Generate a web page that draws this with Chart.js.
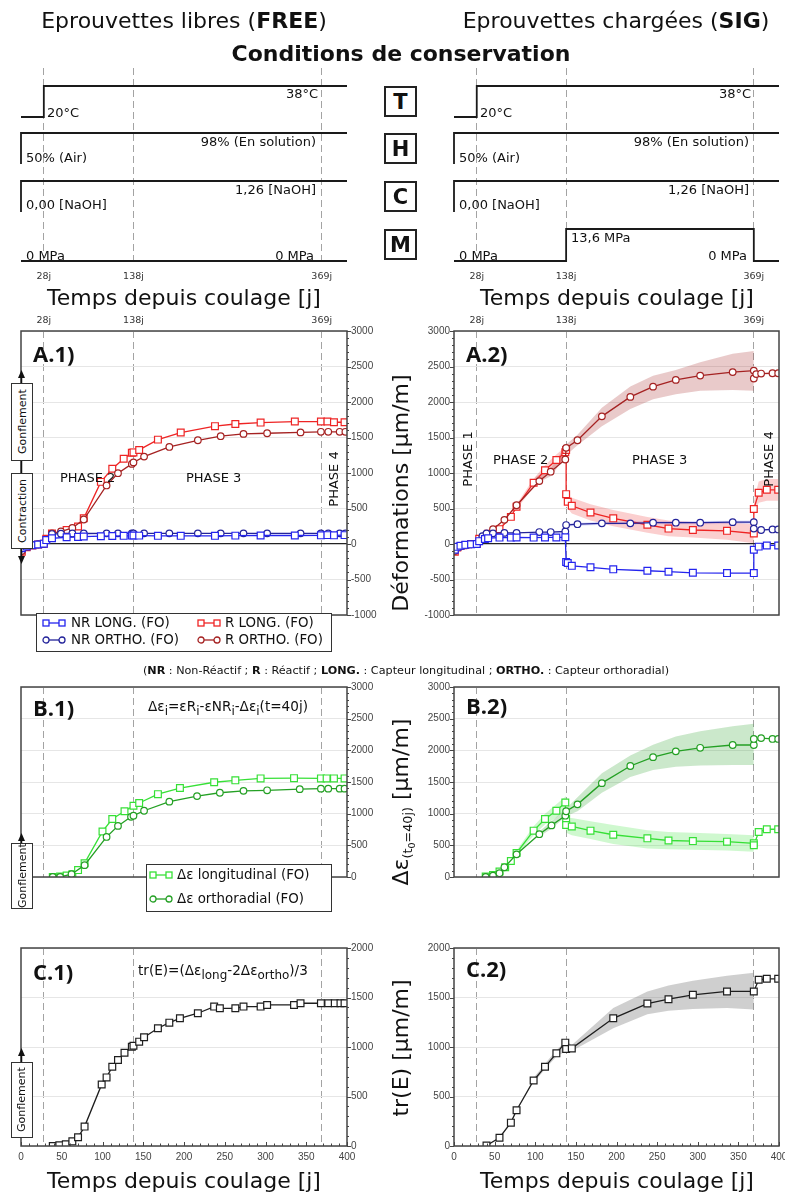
<!DOCTYPE html>
<html><head><meta charset="utf-8">
<script src="https://cdn.jsdelivr.net/npm/chart.js@4.4.0/dist/chart.umd.min.js"></script>
<style>
html,body{margin:0;padding:0;background:#fff;}
body{width:785px;height:1195px;position:relative;overflow:hidden;font-family:"DejaVu Sans",sans-serif;color:#111;}
canvas{position:absolute;z-index:1;}
.t{position:absolute;white-space:nowrap;z-index:3;line-height:1;}
.c{transform:translate(-50%,-50%);}
.l{transform:translate(0,-50%);}
.r{transform:translate(-100%,-50%);}
.rot{transform:translate(-50%,-50%) rotate(-90deg);}
.letter{position:absolute;z-index:3;border:2px solid #222;background:#fff;box-sizing:border-box;display:flex;align-items:center;justify-content:center;font-weight:bold;font-size:21px;width:33px;height:31px;left:384px;}
.vbox{position:absolute;z-index:3;box-sizing:border-box;border:1.5px solid #333;background:#fff;writing-mode:vertical-rl;transform:rotate(180deg);display:flex;align-items:center;justify-content:center;font-size:11px;width:22px;left:10.5px;}
.pl{font-family:"Open Sans",sans-serif;font-weight:700;font-size:22px;}
.leg{position:absolute;z-index:3;box-sizing:border-box;border:1.5px solid #333;background:#fff;}
.leg .it{position:absolute;white-space:nowrap;font-size:13.4px;line-height:1;transform:translate(0,-50%);}
.leg svg{position:absolute;transform:translate(0,-50%);}
sub{font-size:72%;vertical-align:-0.3em;line-height:0;}
.fm sub{font-size:88%;vertical-align:-0.35em;}
svg.ov{position:absolute;left:0;top:0;z-index:2;}
</style>
</head><body>
<script>
// ================= DATA =================
const vLineDays = [28, 138, 369];

// Conservation conditions (schematic levels: 0 = low, 1 = high)
const tDays = [0, 28, 28, 400], tLevel = [0, 0, 1, 1];
const hDays = [0, 0, 400], hLevel = [0, 1, 1];
const cDays = [0, 0, 400], cLevel = [0, 1, 1];
const mDaysFree = [0, 400], mLevelFree = [0, 0];
const mDaysSig = [0, 138, 138, 369, 369, 400], mLevelSig = [0, 0, 1, 1, 0, 0];

// A.1 (FREE) deformations [µm/m]
const a1LongDays = [1, 7, 14, 21, 28, 31, 38, 56, 70, 77, 98, 112, 126, 136, 138, 145, 168, 196, 238, 263, 294, 336, 368, 376, 384, 397];
const a1NrLong = [-60, -35, -18, -8, 5, 55, 80, 95, 100, 105, 110, 112, 115, 118, 120, 118, 115, 115, 115, 118, 120, 120, 122, 125, 122, 125];
const a1RLong = [-110, -45, -20, -8, 5, 75, 148, 197, 246, 361, 875, 1060, 1200, 1285, 1290, 1325, 1470, 1570, 1660, 1690, 1710, 1725, 1725, 1725, 1715, 1715];
const a1OrthoDays = [1, 7, 14, 21, 28, 38, 49, 63, 77, 105, 119, 136, 138, 151, 182, 217, 245, 273, 302, 343, 368, 377, 391, 398];
const a1NrOrtho = [-60, -30, -15, -5, 5, 140, 145, 148, 148, 150, 150, 150, 150, 150, 150, 150, 150, 150, 150, 150, 150, 150, 150, 150];
const a1ROrtho = [-100, -40, -15, -5, 5, 148, 176, 226, 345, 825, 997, 1128, 1149, 1231, 1367, 1461, 1518, 1551, 1560, 1572, 1580, 1580, 1580, 1580];

// A.2 (SIG) deformations [µm/m]
const a2RLongDays = [1, 4, 8, 14, 21, 28, 31, 38, 42, 56, 70, 77, 98, 112, 126, 137, 138, 138, 140, 145, 168, 196, 238, 264, 294, 336, 369, 369, 375, 385, 399];
const a2RLong = [-110, -50, -30, -15, 0, 0, 74, 80, 144, 209, 382, 525, 862, 1038, 1182, 1293, 1325, 702, 595, 538, 443, 361, 271, 217, 197, 185, 148, 492, 722, 763, 763];
const a2NrLongDays = [1, 4, 8, 14, 21, 28, 31, 38, 42, 56, 70, 77, 98, 112, 126, 137, 138, 140, 145, 168, 196, 238, 264, 294, 336, 369, 369, 375, 385, 399];
const a2NrLong = [-80, -40, -25, -12, -5, 0, 40, 70, 82, 90, 90, 92, 90, 92, 92, 94, -254, -267, -308, -328, -357, -377, -390, -406, -410, -410, -82, -37, -20, -20];
const a2ROrthoDays = [1, 7, 14, 21, 28, 35, 40, 48, 62, 77, 105, 119, 137, 138, 152, 182, 217, 245, 273, 303, 343, 369, 369, 372, 378, 392, 399];
const a2ROrtho = [-100, -40, -20, -5, 0, 100, 140, 209, 340, 546, 886, 1018, 1190, 1354, 1461, 1798, 2072, 2216, 2311, 2372, 2421, 2442, 2331, 2393, 2401, 2405, 2405];
const a2NrOrthoDays = [1, 7, 14, 21, 28, 35, 40, 48, 62, 77, 105, 119, 137, 138, 152, 182, 217, 245, 273, 303, 343, 369, 369, 378, 392, 399];
const a2NrOrtho = [-70, -30, -15, -5, 0, 110, 148, 150, 156, 156, 168, 168, 176, 267, 279, 291, 291, 300, 300, 300, 308, 308, 217, 197, 205, 205];
// A.2 scatter bands
const a2ROrthoBandDays = [100, 120, 138, 152, 182, 217, 245, 273, 303, 343, 369];
const a2ROrthoBandLo = [840, 960, 1250, 1390, 1660, 1900, 2040, 2110, 2160, 2170, 2160];
const a2ROrthoBandHi = [940, 1080, 1400, 1540, 1920, 2220, 2370, 2450, 2560, 2680, 2720];
const a2RLongBand1Days = [56, 77, 98, 112, 126, 138];
const a2RLongBand1Lo = [190, 490, 800, 960, 1100, 1200];
const a2RLongBand1Hi = [230, 560, 920, 1110, 1260, 1380];
const a2RLongBand2Days = [140, 145, 168, 196, 238, 264, 294, 336, 369];
const a2RLongBand2Lo = [500, 430, 330, 250, 160, 110, 90, 60, 10];
const a2RLongBand2Hi = [680, 650, 560, 480, 380, 330, 310, 300, 280];
const a2RLongBand3Days = [369, 375, 385, 399];
const a2RLongBand3Lo = [400, 580, 610, 610];
const a2RLongBand3Hi = [600, 880, 915, 915];
const a2NrOrthoBandDays = [138, 182, 245, 303, 369];
const a2NrOrthoBandLo = [245, 270, 278, 278, 285];
const a2NrOrthoBandHi = [290, 315, 325, 325, 330];

// B.1 (FREE) Δε [µm/m]
const b1LongDays = [39, 48, 56, 63, 70, 78, 100, 112, 127, 138, 145, 168, 195, 237, 263, 294, 335, 368, 375, 384, 397];
const b1Long = [0, 9, 22, 44, 109, 218, 719, 916, 1038, 1125, 1168, 1308, 1404, 1496, 1526, 1557, 1561, 1557, 1557, 1557, 1557];
const b1OrthoDays = [39, 48, 62, 78, 105, 119, 135, 138, 151, 182, 216, 244, 273, 302, 342, 368, 377, 391, 397];
const b1Ortho = [0, 0, 44, 187, 632, 807, 950, 968, 1046, 1190, 1277, 1330, 1360, 1369, 1387, 1395, 1395, 1395, 1395];

// B.2 (SIG) Δε [µm/m]
const b2LongDays = [39, 48, 56, 63, 70, 77, 98, 112, 126, 137, 138, 138, 145, 168, 196, 238, 264, 294, 336, 369, 369, 375, 385, 399];
const b2Long = [9, 30, 87, 153, 253, 379, 732, 916, 1046, 1177, 916, 820, 798, 732, 667, 610, 576, 567, 558, 532, 501, 711, 754, 754];
const b2OrthoDays = [39, 48, 56, 62, 77, 105, 120, 137, 138, 152, 182, 217, 245, 273, 303, 343, 369, 369, 378, 392, 399];
const b2Ortho = [0, 20, 60, 153, 358, 676, 815, 968, 1038, 1147, 1482, 1753, 1892, 1984, 2040, 2084, 2084, 2180, 2193, 2180, 2180];
const b2OrthoBandDays = [105, 120, 138, 152, 182, 217, 245, 273, 303, 343, 369];
const b2OrthoBandLo = [640, 760, 960, 1040, 1330, 1580, 1690, 1740, 1760, 1770, 1770];
const b2OrthoBandHi = [720, 880, 1080, 1260, 1640, 1920, 2090, 2220, 2300, 2380, 2420];
const b2LongBand1Days = [70, 77, 98, 112, 126, 138];
const b2LongBand1Lo = [240, 340, 660, 830, 940, 1070];
const b2LongBand1Hi = [270, 420, 800, 1000, 1150, 1280];
const b2LongBand2Days = [138, 145, 168, 196, 238, 264, 294, 336, 369];
const b2LongBand2Lo = [700, 660, 600, 520, 450, 440, 430, 420, 400];
const b2LongBand2Hi = [930, 930, 880, 820, 740, 710, 700, 680, 660];

// C.1 (FREE) tr(E) [µm/m]
const c1Days = [39, 47, 55, 63, 70, 78, 99, 105, 112, 119, 127, 136, 138, 145, 151, 168, 182, 195, 217, 237, 244, 263, 273, 294, 302, 335, 343, 368, 377, 385, 392, 397];
const c1Tr = [0, 7, 17, 47, 88, 196, 622, 693, 801, 868, 942, 1003, 1013, 1054, 1098, 1189, 1246, 1290, 1341, 1408, 1391, 1391, 1408, 1408, 1425, 1425, 1442, 1442, 1442, 1442, 1442, 1442];

// C.2 (SIG) tr(E) [µm/m]
const c2Days = [40, 56, 70, 77, 98, 112, 126, 137, 138, 145, 196, 238, 264, 294, 336, 369, 375, 385, 399];
const c2Tr = [5, 84, 236, 361, 662, 800, 936, 1044, 980, 986, 1290, 1439, 1483, 1527, 1561, 1561, 1679, 1689, 1689];
const c2BandDays = [98, 112, 126, 138, 145, 196, 238, 264, 294, 336, 369];
const c2BandLo = [640, 775, 905, 960, 960, 1190, 1330, 1365, 1385, 1395, 1380];
const c2BandHi = [690, 830, 970, 1060, 1020, 1395, 1560, 1620, 1670, 1720, 1750];

// ================= HELPERS =================
const M = 40;
const fit = s => { if (s.isHorizontal()) s.height = M; else s.width = M; };
const tickFont = {family: 'Liberation Sans', size: 10};

const framePlugin = {
  id: 'frame',
  afterDraw(chart, args, o) {
    if (!o || !o.show) return;
    const {ctx, chartArea: a, scales} = chart;
    ctx.save();
    ctx.strokeStyle = '#444'; ctx.lineWidth = 1.5;
    ctx.strokeRect(a.left, a.top, a.right - a.left, a.bottom - a.top);
    ctx.lineWidth = 1;
    const y = scales.y;
    if (o.yMinor) {
      for (let v = y.min; v <= y.max; v += o.yMinor) {
        const p = Math.round(y.getPixelForValue(v)) + 0.5;
        const len = (v % 500 === 0) ? 4 : 2;
        ctx.beginPath();
        if (o.side === 'right') { ctx.moveTo(a.right, p); ctx.lineTo(a.right + len, p); }
        else { ctx.moveTo(a.left, p); ctx.lineTo(a.left - len, p); }
        ctx.stroke();
      }
    }
    if (o.xMinor) {
      const x = scales.x;
      for (let v = x.min; v <= x.max; v += o.xMinor) {
        const p = Math.round(x.getPixelForValue(v)) + 0.5;
        const len = (v % 50 === 0) ? 4 : 2.5;
        ctx.beginPath(); ctx.moveTo(p, a.bottom); ctx.lineTo(p, a.bottom - len); ctx.stroke();
      }
    }
    ctx.restore();
  }
};
Chart.register(framePlugin);

function mk(area, cfg) {
  const cv = document.createElement('canvas');
  const w = area.r - area.l + 2 * M, h = area.b - area.t + 2 * M;
  cv.width = w; cv.height = h;
  cv.style.width = w + 'px'; cv.style.height = h + 'px';
  cv.style.left = (area.l - M) + 'px'; cv.style.top = (area.t - M) + 'px';
  document.body.appendChild(cv);
  return new Chart(cv.getContext('2d'), cfg);
}
function xMain(show) {
  return {type: 'linear', min: 0, max: 400, position: 'bottom', display: show, afterFit: fit,
    grid: {display: false, drawTicks: false}, border: {display: false},
    ticks: {stepSize: 50, padding: 5, color: '#444', font: tickFont, maxRotation: 0, autoSkip: false, callback: v => String(v)}};
}
function xLines(pos, show, pad) {
  return {type: 'linear', min: 0, max: 400, position: pos, display: true, afterFit: fit,
    afterBuildTicks: s => { s.ticks = vLineDays.map(v => ({value: v})); },
    grid: {color: '#a3a3a3', lineWidth: 1, drawTicks: false},
    border: {display: false, dash: [7, 4]},
    ticks: {display: show, padding: pad, color: '#333', font: {family: 'DejaVu Sans', size: 9.5}, maxRotation: 0, autoSkip: false, callback: v => v + 'j'}};
}
function yAxis(pos, min, max, zero) {
  const isZero = c => zero && c.tick && c.tick.value === 0;
  return {type: 'linear', min, max, position: pos, afterFit: fit,
    ticks: {stepSize: 500, padding: 4, color: '#444', font: tickFont, callback: v => String(v)},
    grid: {drawTicks: false, color: c => isZero(c) ? '#222' : '#e6e6e6', lineWidth: c => isZero(c) ? 1.3 : 1},
    border: {display: false}};
}
function opts(scales, pad, frame) {
  return {responsive: false, animation: false, devicePixelRatio: 1, events: [],
    layout: {padding: pad}, scales,
    plugins: {legend: {display: false}, tooltip: {enabled: false}, frame}};
}
const pts = (xs, ys) => xs.map((x, i) => ({x, y: ys[i]}));
function series(xs, ys, color, style) {
  const sq = style === 'rect';
  return {data: pts(xs, ys), borderColor: color, backgroundColor: color, borderWidth: 1.3,
    pointStyle: style, pointRadius: sq ? 4.8 : 3.3, pointBorderWidth: 1.2,
    pointBackgroundColor: '#fff', pointBorderColor: color, fill: false, tension: 0, order: 1};
}
function band(xs, lo, hi, color) {
  return [
    {data: pts(xs, lo), borderWidth: 0, borderColor: 'rgba(0,0,0,0)', pointRadius: 0, fill: false, order: 5},
    {data: pts(xs, hi), borderWidth: 0, borderColor: 'rgba(0,0,0,0)', pointRadius: 0, fill: '-1', backgroundColor: color, order: 5}
  ];
}
function condSet(xs, lv, base, h) {
  return {data: xs.map((x, i) => ({x, y: base + h * lv[i]})), borderColor: '#1a1a1a', borderWidth: 1.8,
    pointRadius: 0, fill: false, tension: 0, clip: false};
}

const C_NRL = '#2424ee', C_NRO = '#23239a', C_RL = '#ee2424', C_RO = '#a52222';
const C_DL = '#36e036', C_DO = '#24a024';

// ================= CONDITIONS CHARTS =================
function condChart(area, mDays, mLevel) {
  mk(area, {type: 'line', data: {datasets: [
      condSet(tDays, tLevel, 145, 31),
      condSet(hDays, hLevel, 98, 31),
      condSet(cDays, cLevel, 50, 31),
      condSet(mDays, mLevel, 1, 32)
    ]},
    options: opts({x: {type: 'linear', min: 0, max: 400, display: false},
      x2: xLines('bottom', true, 9),
      y: {type: 'linear', min: 0, max: 194, display: false}},
      {left: M, right: M, top: M, bottom: 0}, {show: false})});
}
condChart({l: 21, t: 68, r: 347, b: 262}, mDaysFree, mLevelFree);
condChart({l: 454, t: 68, r: 779, b: 262}, mDaysSig, mLevelSig);

// ================= A =================
mk({l: 21, t: 331, r: 347, b: 655}, {type: 'line', data: {datasets: [
    series(a1LongDays, a1NrLong, C_NRL, 'rect'),
    series(a1OrthoDays, a1NrOrtho, C_NRO, 'circle'),
    series(a1OrthoDays, a1ROrtho, C_RO, 'circle'),
    series(a1LongDays, a1RLong, C_RL, 'rect')
  ]},
  options: opts({x: xMain(false), x2: xLines('top', true, 5), y: yAxis('right', -1000, 3000, true)},
    {left: M, bottom: M, top: 0, right: 0}, {show: true, yMinor: 100, side: 'right'})});

mk({l: 454, t: 331, r: 779, b: 655}, {type: 'line', data: {datasets: [
    series(a2NrLongDays, a2NrLong, C_NRL, 'rect'),
    series(a2NrOrthoDays, a2NrOrtho, C_NRO, 'circle'),
    series(a2ROrthoDays, a2ROrtho, C_RO, 'circle'),
    series(a2RLongDays, a2RLong, C_RL, 'rect'),
    ...band(a2ROrthoBandDays, a2ROrthoBandLo, a2ROrthoBandHi, 'rgba(165,34,34,0.24)'),
    ...band(a2RLongBand1Days, a2RLongBand1Lo, a2RLongBand1Hi, 'rgba(238,36,36,0.22)'),
    ...band(a2RLongBand2Days, a2RLongBand2Lo, a2RLongBand2Hi, 'rgba(238,36,36,0.22)'),
    ...band(a2RLongBand3Days, a2RLongBand3Lo, a2RLongBand3Hi, 'rgba(238,36,36,0.22)'),
    ...band(a2NrOrthoBandDays, a2NrOrthoBandLo, a2NrOrthoBandHi, 'rgba(36,36,238,0.15)')
  ]},
  options: opts({x: xMain(false), x2: xLines('top', true, 5), y: yAxis('left', -1000, 3000, true)},
    {left: 0, bottom: M, top: 0, right: M}, {show: true, yMinor: 100, side: 'left'})});

// ================= B =================
mk({l: 21, t: 687, r: 347, b: 917}, {type: 'line', data: {datasets: [
    series(b1OrthoDays, b1Ortho, C_DO, 'circle'),
    series(b1LongDays, b1Long, C_DL, 'rect')
  ]},
  options: opts({x: xMain(false), x2: xLines('top', false, 5), y: yAxis('right', 0, 3000, false)},
    {left: M, bottom: M, top: 0, right: 0}, {show: true, yMinor: 100, side: 'right'})});

mk({l: 454, t: 687, r: 779, b: 917}, {type: 'line', data: {datasets: [
    series(b2OrthoDays, b2Ortho, C_DO, 'circle'),
    series(b2LongDays, b2Long, C_DL, 'rect'),
    ...band(b2OrthoBandDays, b2OrthoBandLo, b2OrthoBandHi, 'rgba(36,160,36,0.24)'),
    ...band(b2LongBand1Days, b2LongBand1Lo, b2LongBand1Hi, 'rgba(54,224,54,0.24)'),
    ...band(b2LongBand2Days, b2LongBand2Lo, b2LongBand2Hi, 'rgba(54,224,54,0.24)')
  ]},
  options: opts({x: xMain(false), x2: xLines('top', false, 5), y: yAxis('left', 0, 3000, false)},
    {left: 0, bottom: M, top: 0, right: M}, {show: true, yMinor: 100, side: 'left'})});

// ================= C =================
mk({l: 21, t: 948, r: 347, b: 1146}, {type: 'line', data: {datasets: [
    series(c1Days, c1Tr, '#1e1e1e', 'rect')
  ]},
  options: opts({x: xMain(true), x2: xLines('top', false, 5), y: yAxis('right', 0, 2000, false)},
    {left: M, bottom: 0, top: 0, right: 0}, {show: true, yMinor: 100, xMinor: 10, side: 'right'})});

mk({l: 454, t: 948, r: 779, b: 1146}, {type: 'line', data: {datasets: [
    series(c2Days, c2Tr, '#1e1e1e', 'rect'),
    ...band(c2BandDays, c2BandLo, c2BandHi, 'rgba(130,130,130,0.38)')
  ]},
  options: opts({x: xMain(true), x2: xLines('top', false, 5), y: yAxis('left', 0, 2000, false)},
    {left: 0, bottom: 0, top: 0, right: M}, {show: true, yMinor: 100, xMinor: 10, side: 'left'})});

// ================= TEXT =================
function txt(html, x, y, cls, style) {
  const d = document.createElement('div');
  d.className = 't ' + cls; d.innerHTML = html;
  d.style.left = x + 'px'; d.style.top = y + 'px';
  if (style) d.style.cssText += style;
  document.body.appendChild(d);
  return d;
}
txt('Eprouvettes libres (<b>FREE</b>)', 184, 21, 'c', 'font-size:22px;');
txt('Eprouvettes chargées (<b>SIG</b>)', 616, 21, 'c', 'font-size:22px;');
txt('<b>Conditions de conservation</b>', 401, 54, 'c', 'font-size:22px;');
['T', 'H', 'C', 'M'].forEach((L, i) => {
  const d = document.createElement('div'); d.className = 'letter'; d.textContent = L;
  d.style.top = [86, 133, 181, 229][i] + 'px'; document.body.appendChild(d);
});
const cf = 'font-size:13px;';
[0, 433].forEach(dx => {
  txt('20°C', 47 + dx, 112, 'l', cf);
  txt('38°C', 318 + dx, 93, 'r', cf);
  txt('50% (Air)', 26 + dx, 157, 'l', cf);
  txt('98% (En solution)', 316 + dx, 141, 'r', cf);
  txt('0,00 [NaOH]', 26 + dx, 204, 'l', cf);
  txt('1,26 [NaOH]', 316 + dx, 189, 'r', cf);
  txt('0 MPa', 26 + dx, 255, 'l', cf);
  txt('0 MPa', 314 + dx, 255, 'r', cf);
  txt('Temps depuis coulage [j]', 184 + dx, 298, 'c', 'font-size:22px;');
  txt('Temps depuis coulage [j]', 184 + dx, 1181, 'c', 'font-size:22px;');
});
txt('13,6 MPa', 571, 237, 'l', cf);

txt('A.1)', 33, 353, 'l pl');
txt('A.2)', 466, 353, 'l pl');
txt('B.1)', 33, 707, 'l pl');
txt('B.2)', 466, 705, 'l pl');
txt('C.1)', 33, 971, 'l pl');
txt('C.2)', 466, 968, 'l pl');

const pf = 'font-size:13px;';
txt('PHASE 2', 60, 477, 'l', pf);
txt('PHASE 3', 186, 477, 'l', pf);
txt('PHASE 4', 333, 479, 'rot', pf);
txt('PHASE 1', 467, 459, 'rot', pf);
txt('PHASE 2', 493, 459, 'l', pf);
txt('PHASE 3', 632, 459, 'l', pf);
txt('PHASE 4', 768, 459, 'rot', pf);

txt('Déformations [µm/m]', 401, 493, 'rot', 'font-size:22px;');
txt('Δε<sub style="font-size:58%;vertical-align:-0.35em">(t<sub style="font-size:75%">0</sub>=40j)</sub> [µm/m]', 401, 802, 'rot', 'font-size:22px;');
txt('tr(E) [µm/m]', 401, 1048, 'rot', 'font-size:22px;');

txt('(<b>NR</b> : Non-Réactif ; <b>R</b> : Réactif ; <b>LONG.</b> : Capteur longitudinal ; <b>ORTHO.</b> : Capteur orthoradial)', 406, 671, 'c', 'font-size:11.2px;');
txt('Δε<sub>i</sub>=εR<sub>i</sub>-εNR<sub>i</sub>-Δε<sub>i</sub>(t=40j)', 148, 707, 'l fm', 'font-size:13.6px;');
txt('tr(E)=(Δε<sub>long</sub>-2Δε<sub>ortho</sub>)/3', 138, 971, 'l fm', 'font-size:13.6px;');

// Gonflement / Contraction boxes
function vbox(label, top, bottom) {
  const d = document.createElement('div'); d.className = 'vbox'; d.textContent = label;
  d.style.top = top + 'px'; d.style.height = (bottom - top) + 'px'; document.body.appendChild(d);
}
vbox('Gonflement', 383, 461);
vbox('Contraction', 473, 549);
vbox('Gonflement', 843, 909);
vbox('Gonflement', 1062, 1138);

// arrows
const ns = 'http://www.w3.org/2000/svg';
const ov = document.createElementNS(ns, 'svg');
ov.setAttribute('class', 'ov'); ov.setAttribute('width', 785); ov.setAttribute('height', 1195);
ov.innerHTML =
  '<line x1="21.5" y1="376" x2="21.5" y2="558" stroke="#111" stroke-width="1.5"/>' +
  '<polygon points="21.5,370 18,378 25,378" fill="#111"/>' +
  '<polygon points="21.5,564 18,556 25,556" fill="#111"/>' +
  '<line x1="21.5" y1="840" x2="21.5" y2="844" stroke="#111" stroke-width="1.5"/>' +
  '<polygon points="21.5,833 18,841 25,841" fill="#111"/>' +
  '<line x1="21.5" y1="1055" x2="21.5" y2="1063" stroke="#111" stroke-width="1.5"/>' +
  '<polygon points="21.5,1048 18,1056 25,1056" fill="#111"/>';
document.body.appendChild(ov);

// legends
function marker(color, style) {
  const m = style === 'rect'
    ? '<rect x="1" y="2" width="6" height="6" fill="#fff" stroke="' + color + '" stroke-width="1.3"/><rect x="17" y="2" width="6" height="6" fill="#fff" stroke="' + color + '" stroke-width="1.3"/>'
    : '<circle cx="4" cy="5" r="3" fill="#fff" stroke="' + color + '" stroke-width="1.3"/><circle cx="20" cy="5" r="3" fill="#fff" stroke="' + color + '" stroke-width="1.3"/>';
  return '<line x1="7" y1="5" x2="17" y2="5" stroke="' + color + '" stroke-width="1.3"/>' + m;
}
function legend(l, t, w, h, items) {
  const d = document.createElement('div'); d.className = 'leg';
  d.style.left = l + 'px'; d.style.top = t + 'px'; d.style.width = w + 'px'; d.style.height = h + 'px';
  items.forEach(it => {
    const s = document.createElementNS(ns, 'svg');
    s.setAttribute('width', 24); s.setAttribute('height', 10);
    s.style.left = it.mx + 'px'; s.style.top = it.y + 'px';
    s.innerHTML = marker(it.color, it.style);
    d.appendChild(s);
    const tx = document.createElement('div'); tx.className = 'it'; tx.textContent = it.text;
    tx.style.left = it.tx + 'px'; tx.style.top = it.y + 'px';
    d.appendChild(tx);
  });
  document.body.appendChild(d);
}
legend(36, 613, 296, 39, [
  {mx: 5, tx: 34, y: 9, color: C_NRL, style: 'rect', text: 'NR LONG. (FO)'},
  {mx: 5, tx: 34, y: 26, color: C_NRO, style: 'circle', text: 'NR ORTHO. (FO)'},
  {mx: 160, tx: 188, y: 9, color: C_RL, style: 'rect', text: 'R LONG. (FO)'},
  {mx: 160, tx: 188, y: 26, color: C_RO, style: 'circle', text: 'R ORTHO. (FO)'}
]);
legend(146, 864, 186, 48, [
  {mx: 2, tx: 30, y: 10, color: C_DL, style: 'rect', text: 'Δε longitudinal (FO)'},
  {mx: 2, tx: 30, y: 34, color: C_DO, style: 'circle', text: 'Δε orthoradial (FO)'}
]);
</script>
</body></html>
